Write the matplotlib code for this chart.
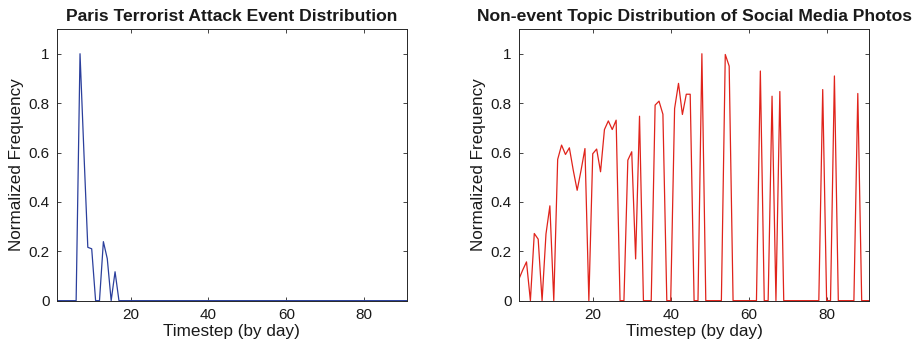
import matplotlib
matplotlib.use("Agg")
import matplotlib.pyplot as plt
import numpy as np

plt.rcParams['font.family'] = ['Liberation Sans', 'DejaVu Sans']

timesteps = list(range(1, 92))

# Paris terrorist attack event distribution (days 1..91)
event_vals = [0, 0, 0, 0, 0, 0, 1.0, 0.6, 0.216, 0.21, 0, 0, 0.239, 0.17, 0, 0.117] + [0] * 75

# Non-event topic distribution (days 1..91)
nonevent_vals = [
    0.085, 0.123, 0.157, 0, 0.272, 0.249, 0, 0.27, 0.384, 0,          # 1-10
    0.572, 0.63, 0.592, 0.619, 0.528, 0.447, 0.528, 0.616, 0, 0.595,  # 11-20
    0.614, 0.522, 0.693, 0.728, 0.693, 0.731, 0, 0, 0.569, 0.603,     # 21-30
    0.169, 0.747, 0, 0, 0, 0.792, 0.808, 0.755, 0, 0,                 # 31-40
    0.778, 0.88, 0.754, 0.836, 0.836, 0, 0, 1.0, 0, 0,                # 41-50
    0, 0, 0, 0.997, 0.95, 0, 0, 0, 0, 0,                              # 51-60
    0, 0, 0.93, 0, 0, 0.828, 0, 0.847, 0, 0,                          # 61-70
    0, 0, 0, 0, 0, 0, 0, 0, 0.855, 0,                                 # 71-80
    0, 0.91, 0, 0, 0, 0, 0, 0.839, 0, 0,                              # 81-90
    0,                                                                # 91
]

titles = ["Paris Terrorist Attack Event Distribution",
          "Non-event Topic Distribution of Social Media Photos"]
xlabel = "Timestep (by day)"
ylabel = "Normalized Frequency"
xticks = [20, 40, 60, 80]
yticks = [0, 0.2, 0.4, 0.6, 0.8, 1]
yticklabels = ["0", "0.2", "0.4", "0.6", "0.8", "1"]

fig = plt.figure(figsize=(9.14, 3.5), dpi=100)
ax1 = fig.add_axes([0.062, 0.141, 0.3833, 0.776])
ax2 = fig.add_axes([0.5675, 0.141, 0.3838, 0.776])

series = [(ax1, event_vals, "#2b3f9c"), (ax2, nonevent_vals, "#e0231b")]
axis_col = "#262626"
for (ax, vals, col), title in zip(series, titles):
    ax.plot(timesteps, vals, color=col, lw=0.9)
    ax.set_xlim(1, 91)
    ax.set_ylim(0, 1.1)
    ax.set_xticks(xticks)
    ax.set_yticks(yticks)
    ax.set_yticklabels(yticklabels)
    ax.tick_params(direction='in', top=True, right=True, length=3, width=0.6,
                   colors=axis_col, labelsize=11, pad=5, labelcolor='#1a1a1a')
    for sp in ax.spines.values():
        sp.set_color(axis_col)
        sp.set_linewidth(0.7)
    ax.set_xlabel(xlabel, fontsize=12.3, color='#1a1a1a', labelpad=2)
    ax.set_ylabel(ylabel, fontsize=12.3, color='#1a1a1a', labelpad=3)
    ax.set_title(title, fontsize=12.6, fontweight='bold', color='#1a1a1a', pad=6)

fig.savefig("out.png", dpi=100)
